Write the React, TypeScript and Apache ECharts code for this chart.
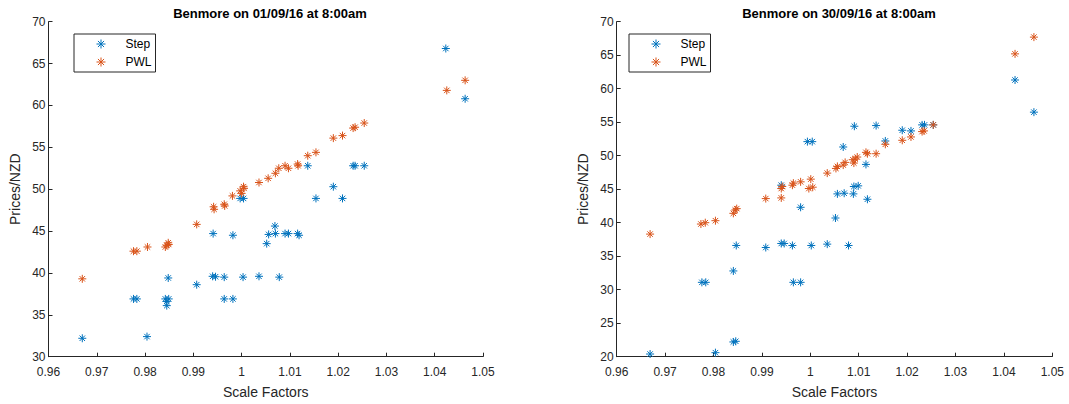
import React, { useEffect, useRef } from "react";
import * as echarts from "echarts";

// ---- Data (scale factor, price NZD) ----
const leftTitle = "Benmore on 01/09/16 at 8:00am";
const rightTitle = "Benmore on 30/09/16 at 8:00am";
const seriesNames = ["Step", "PWL"];

const leftStep: [number, number][] = [
  [0.967, 32.2], [0.9804, 32.4], [0.9776, 36.9], [0.9783, 36.9], [0.9842, 36.9],
  [0.9849, 36.9], [0.9845, 36.6], [0.9845, 36.1], [0.9848, 39.4], [0.9907, 38.6],
  [0.994, 39.6], [0.9946, 39.55], [0.9964, 39.5], [0.9964, 36.9], [0.9982, 36.9],
  [1.0003, 39.5], [1.0036, 39.6], [1.0078, 39.5], [0.9941, 44.7], [0.9982, 44.5],
  [1.0052, 43.5], [1.0056, 44.6], [1.0069, 45.6], [1.007, 44.7], [1.009, 44.7],
  [1.0097, 44.7], [1.0116, 44.7], [1.0119, 44.5], [0.9997, 48.9], [1.0004, 48.9],
  [1.0154, 48.9], [1.019, 50.3], [1.0209, 48.9], [1.0137, 52.8], [1.0231, 52.8],
  [1.0235, 52.8], [1.0254, 52.8], [1.0423, 66.8], [1.0463, 60.8],
];

const leftPWL: [number, number][] = [
  [0.967, 39.3], [0.9776, 42.6], [0.9783, 42.6], [0.9805, 43.1], [0.9842, 43.1],
  [0.9845, 43.3], [0.9848, 43.6], [0.9849, 43.4], [0.9907, 45.8], [0.9942, 47.9],
  [0.9943, 47.6], [0.9964, 48.2], [0.9965, 48.0], [0.9981, 49.2], [0.9997, 49.8],
  [1.0, 49.5], [1.0004, 50.3], [1.0005, 50.1], [1.0036, 50.8], [1.0055, 51.3],
  [1.007, 51.9], [1.0077, 52.5], [1.009, 52.8], [1.0097, 52.5], [1.0116, 53.0],
  [1.0117, 52.8], [1.0137, 54.0], [1.0154, 54.4], [1.019, 56.1], [1.0209, 56.4],
  [1.0231, 57.3], [1.0235, 57.4], [1.0254, 57.9], [1.0425, 61.8], [1.0463, 63.0],
];

const rightStep: [number, number][] = [
  [0.9669, 20.4], [0.9804, 20.6], [0.9841, 22.2], [0.9846, 22.3], [0.9841, 32.8],
  [0.9776, 31.1], [0.9784, 31.1], [0.9965, 31.1], [0.998, 31.1], [0.9847, 36.6],
  [0.9908, 36.3], [0.994, 36.9], [0.9946, 36.9], [0.9963, 36.6], [1.0002, 36.6],
  [1.0035, 36.8], [1.0079, 36.6], [0.998, 42.3], [1.0052, 40.7], [1.0056, 44.3],
  [1.007, 44.4], [1.0089, 44.3], [1.009, 45.4], [1.0099, 45.5], [1.0118, 43.5],
  [0.994, 45.6], [0.9994, 52.1], [1.0004, 52.1], [1.0068, 51.3], [1.0091, 54.4],
  [1.0136, 54.5], [1.0115, 48.7], [1.0155, 52.2], [1.019, 53.8], [1.0208, 53.7],
  [1.0231, 54.6], [1.0236, 54.6], [1.0254, 54.6], [1.0423, 61.3], [1.0462, 56.5],
];

const rightPWL: [number, number][] = [
  [0.9669, 38.3], [0.9774, 39.8], [0.9783, 40.0], [0.9804, 40.3], [0.9841, 41.4],
  [0.9845, 41.9], [0.9848, 42.1], [0.9908, 43.6], [0.994, 43.7], [0.994, 45.1],
  [0.9942, 45.4], [0.9963, 45.6], [0.9965, 45.9], [0.998, 46.1], [0.9997, 45.1],
  [1.0005, 45.3], [1.0001, 46.5], [1.0035, 47.4], [1.0053, 48.1], [1.0056, 48.4],
  [1.0068, 48.6], [1.0072, 49.0], [1.0088, 49.4], [1.009, 48.9], [1.0093, 49.5],
  [1.0097, 49.8], [1.0115, 50.5], [1.0118, 50.3], [1.0136, 50.3], [1.0155, 51.7],
  [1.019, 52.3], [1.0208, 52.8], [1.0231, 53.6], [1.0235, 53.7], [1.0254, 54.6],
  [1.0423, 65.2], [1.0462, 67.7],
];

const xMin = 0.96;
const xMax = 1.05;
const xStep = 0.01;
const leftYMin = 30;
const rightYMin = 20;
const yMax = 70;
const yStep = 5;

const colors = ["#0072BD", "#D95319"];
const ASTERISK =
  "path://M5,0L5,10M0,5L10,5M1.6,1.6L8.4,8.4M1.6,8.4L8.4,1.6";

const FONT = "'Liberation Sans', Arial, Helvetica, sans-serif";
const AXIS_COLOR = "#262626";

function makeXAxis(gridIndex: number) {
  return {
    type: "value",
    gridIndex,
    min: xMin,
    max: xMax,
    interval: xStep,
    name: "Scale Factors",
    nameLocation: "middle",
    nameGap: 28,
    nameTextStyle: { fontSize: 14, color: AXIS_COLOR, fontFamily: FONT },
    axisLine: { show: true, onZero: false, lineStyle: { color: AXIS_COLOR, width: 1 } },
    axisTick: { show: true, inside: true, length: 4, lineStyle: { color: AXIS_COLOR } },
    axisLabel: {
      fontSize: 12,
      color: AXIS_COLOR,
      fontFamily: FONT,
      margin: 9,
      formatter: (v: number) => String(parseFloat(v.toFixed(2))),
    },
    splitLine: { show: false },
  };
}

function makeYAxis(gridIndex: number, min: number) {
  return {
    type: "value",
    gridIndex,
    min,
    max: yMax,
    interval: yStep,
    name: "Prices/NZD",
    nameLocation: "middle",
    nameGap: 27,
    nameTextStyle: { fontSize: 14, color: AXIS_COLOR, fontFamily: FONT },
    axisLine: { show: true, onZero: false, lineStyle: { color: AXIS_COLOR, width: 1 } },
    axisTick: { show: true, inside: true, length: 4, lineStyle: { color: AXIS_COLOR } },
    axisLabel: { fontSize: 12, color: AXIS_COLOR, fontFamily: FONT, margin: 3 },
    splitLine: { show: false },
  };
}

function makeSeries(name: string, data: [number, number][], idx: number, color: string) {
  return {
    type: "scatter",
    name,
    xAxisIndex: idx,
    yAxisIndex: idx,
    data,
    symbol: ASTERISK,
    symbolSize: 8,
    symbolKeepAspect: true,
    itemStyle: { color, borderColor: color, borderWidth: 1, opacity: 1 },
    emphasis: { disabled: true },
  };
}

function makeLegend(left: number) {
  return {
    orient: "vertical",
    left,
    top: 34,
    data: seriesNames,
    icon: ASTERISK,
    itemWidth: 9,
    itemHeight: 9,
    itemGap: 6,
    padding: [4, 4, 4, 22],
    borderColor: "#262626",
    borderWidth: 1,
    backgroundColor: "#ffffff",
    selectedMode: false,
    textStyle: { fontSize: 12, color: "#000000", fontFamily: FONT, padding: [0, 0, 0, 15] },
    itemStyle: { borderWidth: 1 },
  };
}

export default function App() {
  const ref = useRef<HTMLDivElement>(null);

  useEffect(() => {
    document.body.style.margin = "0";
    if (!ref.current) return;
    const chart = echarts.init(ref.current, undefined, { renderer: "svg" });
    chart.setOption({
      animation: false,
      backgroundColor: "#ffffff",
      color: colors,
      textStyle: { fontFamily: FONT },
      title: [
        {
          text: leftTitle,
          left: 265,
          top: 2,
          textAlign: "center",
          textStyle: { fontSize: 13, fontWeight: "bold", color: "#000", fontFamily: FONT },
        },
        {
          text: rightTitle,
          left: 834,
          top: 2,
          textAlign: "center",
          textStyle: { fontSize: 13, fontWeight: "bold", color: "#000", fontFamily: FONT },
        },
      ],
      legend: [makeLegend(74), makeLegend(629)],
      grid: [
        { left: 48.5, top: 21.7, width: 434.5, height: 335, containLabel: false },
        { left: 616.7, top: 21.7, width: 435.6, height: 335, containLabel: false },
      ],
      xAxis: [makeXAxis(0), makeXAxis(1)],
      yAxis: [makeYAxis(0, leftYMin), makeYAxis(1, rightYMin)],
      series: [
        makeSeries(seriesNames[0], leftStep, 0, colors[0]),
        makeSeries(seriesNames[1], leftPWL, 0, colors[1]),
        makeSeries(seriesNames[0], rightStep, 1, colors[0]),
        makeSeries(seriesNames[1], rightPWL, 1, colors[1]),
      ],
    });
    return () => chart.dispose();
  }, []);

  return (
    <div
      ref={ref}
      style={{ position: "fixed", left: 0, top: 0, width: 1069, height: 404 }}
    />
  );
}
